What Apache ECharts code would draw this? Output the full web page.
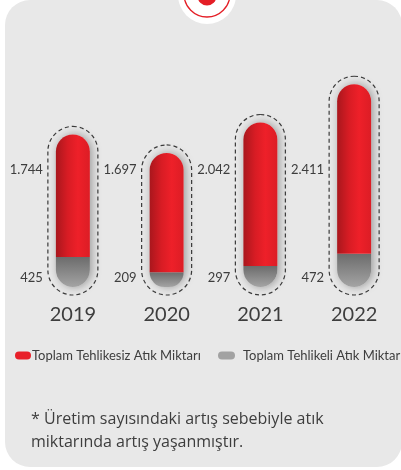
<!DOCTYPE html>
<html lang="tr">
<head>
    <meta charset="UTF-8">
    <title>Atık Miktarı</title>
    <script src="https://cdn.jsdelivr.net/npm/echarts@6/dist/echarts.min.js"></script>
    <style>
        html, body { margin: 0; padding: 0; background: #ffffff; }
        #chart { width: 401px; height: 470px; }
    </style>
</head>
<body>
<div id="chart"></div>
<script>
    var years = ['2019', '2020', '2021', '2022'];
    var safeWaste = [1744, 1697, 2042, 2411];      // Toplam Tehlikesiz Atık Miktarı
    var hazardousWaste = [425, 209, 297, 472];     // Toplam Tehlikeli Atık Miktarı
    var seriesNames = ['Toplam Tehlikesiz Atık Miktarı', 'Toplam Tehlikeli Atık Miktarı'];
    var footnote = '* Üretim sayısındaki artış sebebiyle atık\nmiktarında artış yaşanmıştır.';

    var FONT = 'Lato, "Open Sans", sans-serif';
    var TEXT = '#3d3d3d';
    var BAR_W = 34;

    function fmt(v) {
        // Turkish thousands separator
        return String(v).replace(/\B(?=(\d{3})+(?!\d))/g, '.');
    }

    var totals = [];
    for (var i = 0; i < years.length; i++) {
        totals.push([i, safeWaste[i] + hazardousWaste[i]]);
    }
    var labelData = [];
    for (var j = 0; j < years.length; j++) {
        labelData.push([j, safeWaste[j], hazardousWaste[j]]);
    }

    // dashed pill + soft shadow behind every bar
    function renderOutline(params, api) {
        var top = api.coord([api.value(0), api.value(1)]);
        var base = api.coord([api.value(0), 0]);
        var cx = top[0];
        var pad = 8;
        return {
            type: 'group',
            children: [{
                type: 'rect',
                shape: {x: cx - BAR_W / 2, y: top[1], width: BAR_W, height: base[1] - top[1], r: BAR_W / 2},
                style: {fill: '#e8e8e8', shadowBlur: 10, shadowOffsetX: 2, shadowColor: 'rgba(0,0,0,0.35)'}
            }, {
                type: 'rect',
                shape: {
                    x: cx - BAR_W / 2 - pad, y: top[1] - pad,
                    width: BAR_W + pad * 2, height: base[1] - top[1] + pad * 2,
                    r: BAR_W / 2 + pad
                },
                style: {fill: null, stroke: '#3a3a3a', lineWidth: 1.2, lineDash: [4, 3]}
            }]
        };
    }

    function renderLabels(params, api) {
        var x = api.coord([api.value(0), 0])[0] - BAR_W / 2 - 13;
        return {
            type: 'group',
            children: [{
                type: 'text',
                style: {text: fmt(api.value(1)), x: x, y: 170, align: 'right', verticalAlign: 'middle',
                    fill: TEXT, font: '13px ' + FONT}
            }, {
                type: 'text',
                style: {text: fmt(api.value(2)), x: x, y: 278, align: 'right', verticalAlign: 'middle',
                    fill: TEXT, font: '13px ' + FONT}
            }]
        };
    }

    var redFill = new echarts.graphic.LinearGradient(0, 0, 1, 0, [
        {offset: 0, color: '#a9171d'},
        {offset: 0.35, color: '#d81c24'},
        {offset: 0.65, color: '#ee2029'},
        {offset: 1, color: '#dc1d25'}
    ]);
    var grayFill = new echarts.graphic.LinearGradient(0, 0, 0, 1, [
        {offset: 0, color: '#6c6c6c'},
        {offset: 1, color: '#a4a4a4'}
    ]);

    var chart = echarts.init(document.getElementById('chart'));
    var option = {
        animation: false,
        graphic: [{
            type: 'rect', z: -10,
            shape: {x: 5, y: 0, width: 397, height: 467, r: 25},
            style: {fill: '#e8e8e8'}
        }, {
            type: 'circle', z: -5,
            shape: {cx: 207, cy: -5, r: 29},
            style: {fill: '#ffffff'}
        }, {
            type: 'circle', z: -5,
            shape: {cx: 207, cy: -6, r: 23},
            style: {fill: null, stroke: '#e41e26', lineWidth: 1.3}
        }, {
            type: 'circle', z: -5,
            shape: {cx: 207, cy: -4, r: 9.5},
            style: {fill: '#e41e26'}
        }, {
            type: 'text',
            left: 31, top: 408,
            style: {text: footnote, fill: TEXT, font: '16px "Open Sans", Lato, sans-serif', lineHeight: 23}
        }],
        legend: [{
            left: 15, top: 349, padding: 0,
            itemWidth: 16, itemHeight: 8, itemGap: 0,
            icon: 'path://M4,0 H12 A4,4 0 0 1 12,8 H4 A4,4 0 0 1 4,0 Z',
            textStyle: {color: TEXT, fontFamily: FONT, fontSize: 13, padding: [0, 0, 0, -4]},
            selectedMode: false,
            data: [{name: seriesNames[0], itemStyle: {color: '#e8202a'}}]
        }, {
            left: 218, top: 349, padding: 0,
            itemWidth: 17, itemHeight: 8, itemGap: 0,
            icon: 'path://M4,0 H13 A4,4 0 0 1 13,8 H4 A4,4 0 0 1 4,0 Z',
            textStyle: {color: TEXT, fontFamily: FONT, fontSize: 13, padding: [0, 0, 0, 3]},
            selectedMode: false,
            data: [{name: seriesNames[1], itemStyle: {color: '#a2a2a2'}}]
        }],
        grid: {left: 26, top: 76, height: 211, width: 386},
        xAxis: {
            type: 'category',
            data: years,
            axisLine: {show: false},
            axisTick: {show: false},
            axisLabel: {color: TEXT, fontFamily: FONT, fontSize: 20, margin: 18}
        },
        yAxis: {
            type: 'value', min: 0, max: 3000,
            show: false,
            splitLine: {show: false}
        },
        series: [{
            type: 'custom',
            renderItem: renderOutline,
            data: totals,
            z: 1,
            silent: true
        }, {
            name: seriesNames[1],
            type: 'bar',
            stack: 'waste',
            barWidth: BAR_W,
            z: 3,
            itemStyle: {color: grayFill, borderRadius: [0, 0, BAR_W / 2, BAR_W / 2]},
            data: hazardousWaste
        }, {
            name: seriesNames[0],
            type: 'bar',
            stack: 'waste',
            barWidth: BAR_W,
            z: 3,
            itemStyle: {color: redFill, borderRadius: [BAR_W / 2, BAR_W / 2, 0, 0]},
            data: safeWaste
        }, {
            type: 'custom',
            renderItem: renderLabels,
            data: labelData,
            z: 4,
            silent: true
        }]
    };
    chart.setOption(option);
</script>
</body>
</html>
